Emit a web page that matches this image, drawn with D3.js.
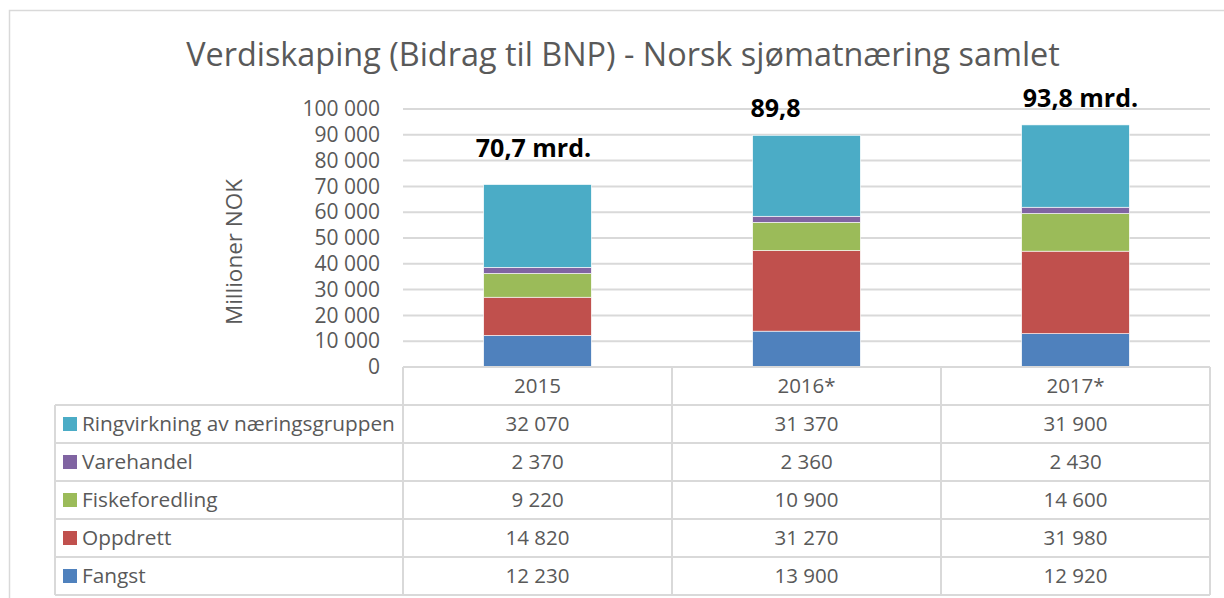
<!DOCTYPE html>
<html>
<head>
<meta charset="utf-8">
<script src="https://cdn.jsdelivr.net/npm/d3@7"></script>
<style>
    body { margin: 0; background: #fff; }
    svg { display: block; font-family: 'Open Sans', sans-serif; }
</style>
</head>
<body>
<div class="Canvas"></div>
<script>
// chart data
const years = ['2015', '2016*', '2017*'];
const seriesNames = ['Fangst', 'Oppdrett', 'Fiskeforedling', 'Varehandel', 'Ringvirkning av næringsgruppen'];
const fangst = [12230, 13900, 12920];
const oppdrett = [14820, 31270, 31980];
const fiskeforedling = [9220, 10900, 14600];
const varehandel = [2370, 2360, 2430];
const ringvirkning = [32070, 31370, 31900];
const totalLabels = ['70,7 mrd.', '89,8', '93,8 mrd.'];
const yTicks = [0, 10000, 20000, 30000, 40000, 50000, 60000, 70000, 80000, 90000, 100000];

const seriesColors = ['#4F81BD', '#C0504D', '#9BBB59', '#8064A2', '#4BACC6'];
const textColor = '#595959';
const gridColor = '#d9d9d9';

const width = 1224;
const height = 598;
const plotLeft = 403;
const plotRight = 1210;
const plotBottom = 367;
const plotTop = 109;
const rowHeight = 38;
const legendLeft = 55;
const tableFont = '20.5px';
// manual offsets of the total labels (placed by hand in the original)
const labelOffsets = [{ dx: -4, dy: -28 }, { dx: -31, dy: -18 }, { dx: 5, dy: -18 }];

const allValues = [fangst, oppdrett, fiskeforedling, varehandel, ringvirkning];
const rows = years.map((year, i) => {
    let row = { year: year };
    seriesNames.forEach((name, s) => (row[name] = allValues[s][i]));
    return row;
});

let svg = d3.select('.Canvas').append('svg').attr('width', width).attr('height', height);

// outer frame
svg.append('rect')
    .attr('x', 9.5).attr('y', 10.5)
    .attr('width', width + 10).attr('height', height + 10)
    .attr('fill', 'none').attr('stroke', gridColor).attr('stroke-width', 1.5);

let x = d3.scaleBand().domain(years).range([plotLeft, plotRight]).paddingInner(0.6).paddingOuter(0.3);
let y = d3.scaleLinear().domain([0, 100000]).range([plotBottom, plotTop]);

// gridlines
svg.append('g')
    .selectAll('line')
    .data(yTicks.slice(1))
    .enter()
    .append('line')
    .attr('x1', plotLeft).attr('x2', plotRight)
    .attr('y1', (d) => y(d)).attr('y2', (d) => y(d))
    .attr('stroke', gridColor).attr('stroke-width', 2);

// y axis labels
const fmt = (v) => d3.format(',')(v).replace(/,/g, ' ');
let yAxis = d3.axisLeft(y).tickValues(yTicks).tickFormat(fmt).tickSize(0).tickPadding(0);
let yG = svg.append('g').attr('transform', `translate(380,0)`).call(yAxis);
yG.select('.domain').remove();
yG.selectAll('text').attr('fill', textColor).attr('font-size', '21px').attr('font-family', "'Open Sans', sans-serif");

// y axis title
svg.append('text')
    .attr('transform', 'translate(242,252) rotate(-90)')
    .attr('text-anchor', 'middle')
    .attr('fill', textColor)
    .attr('font-size', '22.5px')
    .text('Millioner NOK');

// title
svg.append('text')
    .attr('x', 623).attr('y', 66)
    .attr('text-anchor', 'middle')
    .attr('fill', textColor)
    .attr('font-size', '32.4px')
    .text('Verdiskaping (Bidrag til BNP) - Norsk sjømatnæring samlet');

// stacked bars
let stack = d3.stack().keys(seriesNames);
let layers = stack(rows);
svg.append('g')
    .selectAll('g')
    .data(layers)
    .enter()
    .append('g')
    .attr('fill', (d, i) => seriesColors[i])
    .selectAll('rect')
    .data((d) => d)
    .enter()
    .append('rect')
    .attr('x', (d) => x(d.data.year))
    .attr('width', x.bandwidth())
    .attr('y', (d) => y(d[1]))
    .attr('height', (d) => y(d[0]) - y(d[1]))
    .attr('stroke', '#fff')
    .attr('stroke-width', 0.6);

// total labels
const totals = years.map((yr, i) => d3.sum(allValues, (s) => s[i]));
svg.append('g')
    .selectAll('text')
    .data(years)
    .enter()
    .append('text')
    .attr('x', (d, i) => x(d) + x.bandwidth() / 2 + labelOffsets[i].dx)
    .attr('y', (d, i) => y(totals[i]) + labelOffsets[i].dy)
    .attr('text-anchor', 'middle')
    .attr('font-size', '25px')
    .attr('font-weight', 'bold')
    .attr('fill', '#000')
    .text((d, i) => totalLabels[i]);

// data table
let step = x.step();
let colLeft = (i) => plotLeft + i * step;
let table = svg.append('g');
let tableTop = plotBottom + rowHeight;
let tableBottom = tableTop + rowHeight * seriesNames.length;

// horizontal lines of the table
table.append('line')
    .attr('x1', plotLeft).attr('x2', plotRight)
    .attr('y1', plotBottom).attr('y2', plotBottom)
    .attr('stroke', gridColor).attr('stroke-width', 2);
for (let r = 0; r <= seriesNames.length; r++) {
    table.append('line')
        .attr('x1', legendLeft).attr('x2', plotRight)
        .attr('y1', tableTop + r * rowHeight).attr('y2', tableTop + r * rowHeight)
        .attr('stroke', gridColor).attr('stroke-width', 2);
}
// vertical lines
table.append('line')
    .attr('x1', legendLeft).attr('x2', legendLeft)
    .attr('y1', tableTop).attr('y2', tableBottom)
    .attr('stroke', gridColor).attr('stroke-width', 2);
for (let c = 0; c <= years.length; c++) {
    table.append('line')
        .attr('x1', colLeft(c)).attr('x2', colLeft(c))
        .attr('y1', plotBottom).attr('y2', tableBottom)
        .attr('stroke', gridColor).attr('stroke-width', 2);
}

// header row
table.selectAll('text.year')
    .data(years)
    .enter()
    .append('text')
    .attr('class', 'year')
    .attr('x', (d) => x(d) + x.bandwidth() / 2)
    .attr('y', plotBottom + rowHeight / 2)
    .attr('dy', '0.35em')
    .attr('text-anchor', 'middle')
    .attr('fill', textColor)
    .attr('font-size', tableFont)
    .text((d) => d);

// one row per series, top row is last series
const rowOrder = seriesNames.map((n, i) => i).reverse();
rowOrder.forEach((s, r) => {
    let cy = tableTop + r * rowHeight + rowHeight / 2;
    table.append('rect')
        .attr('x', 63).attr('y', cy - 7)
        .attr('width', 14).attr('height', 14)
        .attr('fill', seriesColors[s]);
    table.append('text')
        .attr('x', 82).attr('y', cy)
        .attr('dy', '0.35em')
        .attr('fill', textColor)
        .attr('font-size', '20.8px')
        .text(seriesNames[s]);
    table.selectAll(`text.v${s}`)
        .data(allValues[s])
        .enter()
        .append('text')
        .attr('class', `v${s}`)
        .attr('x', (d, i) => x(years[i]) + x.bandwidth() / 2)
        .attr('y', cy)
        .attr('dy', '0.35em')
        .attr('text-anchor', 'middle')
        .attr('fill', textColor)
        .attr('font-size', tableFont)
        .text((d) => fmt(d));
});
</script>
</body>
</html>
